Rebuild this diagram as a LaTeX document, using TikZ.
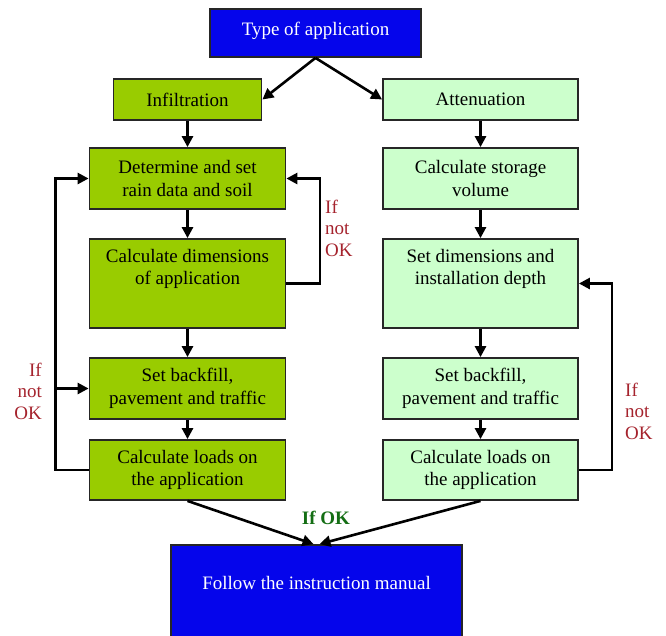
\documentclass[tikz,border=0pt]{standalone}
\usepackage{fontspec}
\setmainfont{Liberation Serif}
\usetikzlibrary{arrows.meta}
\definecolor{boxblue}{RGB}{5,5,235}
\definecolor{infgreen}{RGB}{153,204,0}
\definecolor{attgreen}{RGB}{204,255,204}
\definecolor{notok}{RGB}{165,35,45}
\definecolor{okgreen}{RGB}{20,110,20}
\begin{document}
\begin{tikzpicture}[x=1pt,y=-1pt,
  every node/.style={font=\fontsize{19}{22.5}\selectfont},
  box/.style={draw=black!85, line width=1.8pt, rectangle, inner sep=0pt, align=center},
  bluebox/.style={box, fill=boxblue, text=white},
  darkbox/.style={box, fill=infgreen, minimum width=196pt},
  lightbox/.style={box, fill=attgreen, minimum width=195pt},
  plaintext/.style={inner sep=0pt, align=center},
  arr/.style={line width=2.6pt, -{Triangle[length=11pt,width=11pt]}},
  cond/.style={text=notok, inner sep=0pt, font=\fontsize{19}{21.5}\selectfont}
]
\useasboundingbox (0,0) rectangle (666,635);
\clip (0,0) rectangle (666,635);

% top
\node[bluebox, minimum width=211pt, minimum height=48pt] (type) at (315.5,33) {};
\node[plaintext, text=white] (typeT) at (315.5,31) {Type of application};
\node[darkbox, minimum width=148pt, minimum height=41pt] (infil) at (187.5,99.5) {Infiltration};
\node[lightbox, minimum height=41pt] (atten) at (480.5,99.5) {Attenuation};

% left column
\node[darkbox, minimum height=61pt] (det) at (187.5,178.5) {Determine and set\\rain data and soil};
\node[darkbox, minimum height=89pt] (cdim) at (187.5,283.5) {};
\node[plaintext] (cdimT) at (187.5,269) {Calculate dimensions\\of application};
\node[darkbox, minimum height=61pt] (backL) at (187.5,388.5) {Set backfill,\\pavement and traffic};
\node[darkbox, minimum height=60pt] (loadL) at (187.5,470) {Calculate loads on\\the application};

% right column
\node[lightbox, minimum height=61pt] (stor) at (480.5,178.5) {Calculate storage\\volume};
\node[lightbox, minimum height=89pt] (sdim) at (480.5,283.5) {};
\node[plaintext] (sdimT) at (480.5,269) {Set dimensions and\\installation depth};
\node[lightbox, minimum height=61pt] (backR) at (480.5,388.5) {Set backfill,\\pavement and traffic};
\node[lightbox, minimum height=60pt] (loadR) at (480.5,470) {Calculate loads on\\the application};

% bottom
\node[bluebox, minimum width=291pt, minimum height=95pt] (follow) at (316.5,592.5) {};
\node[plaintext, text=white] (followT) at (316.5,583) {Follow the instruction manual};

% labels
\node[text=okgreen, inner sep=0pt, font=\bfseries\fontsize{19}{22}\selectfont] (ifok) at (326,518) {If OK};
\node[cond, align=left, anchor=west] (nokM) at (325,228) {If\\not\\OK};
\node[cond, align=right, anchor=east] (nokL) at (42,391) {If\\not\\OK};
\node[cond, align=left, anchor=west] (nokR) at (625,411) {If\\not\\OK};

% loop coordinates
\coordinate (loopL) at (55.5,0);
\coordinate (loopM) at (320,0);
\coordinate (loopR) at (612,0);

% connectors
\draw[arr] (type.south) -- (infil.east);
\draw[arr] (type.south) -- (atten.west);
\draw[arr] (infil.south) -- (det.north);
\draw[arr] (det.south) -- (cdim.north);
\draw[arr] (cdim.south) -- (backL.north);
\draw[arr] (backL.south) -- (loadL.north);
\draw[arr] (atten.south) -- (stor.north);
\draw[arr] (stor.south) -- (sdim.north);
\draw[arr] (sdim.south) -- (backR.north);
\draw[arr] (backR.south) -- (loadR.north);

\draw[arr] (cdim.east) -| (loopM |- det.east) -- (det.east);
\draw[arr] (loadL.west) -| (loopL |- det.west) -- (det.west);
\draw[arr] (loopL |- backL.west) -- (backL.west);
\draw[arr] (loadR.east) -| (loopR |- sdim.east) -- (sdim.east);

\draw[arr] (loadL.south) -- ([xshift=-3pt]follow.north);
\draw[arr] (loadR.south) -- ([xshift=3pt]follow.north);
\end{tikzpicture}
\end{document}
